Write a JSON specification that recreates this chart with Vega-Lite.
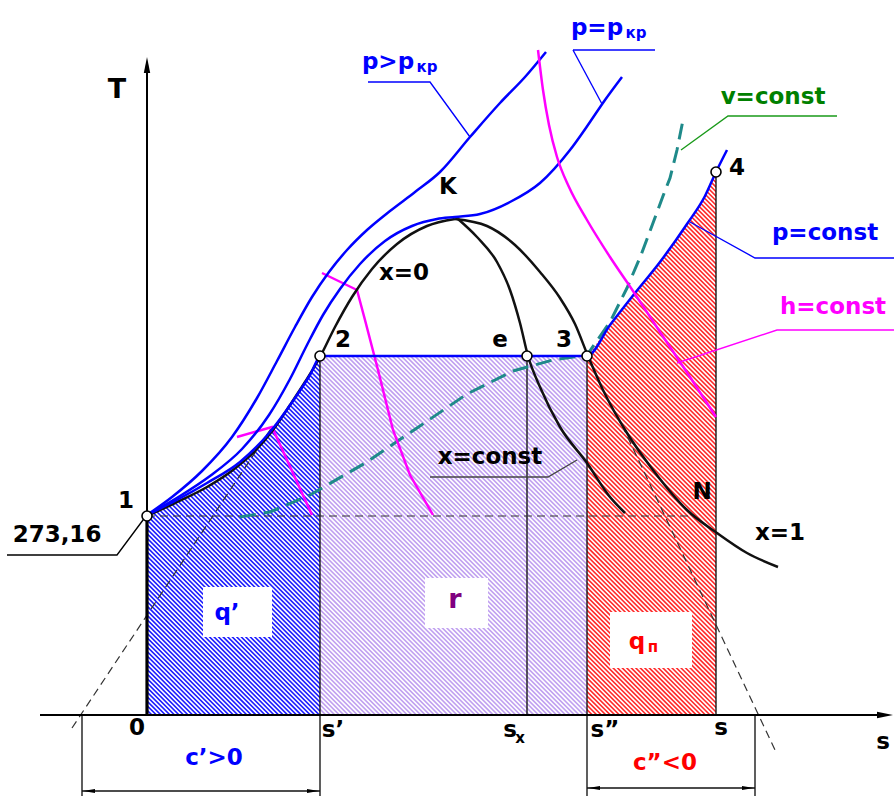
{
  "$schema": "https://vega.github.io/schema/vega-lite/v6.json",
  "padding": 0,
  "background": "white",
  "config": {"view": {"stroke": null}},
  "datasets": {
    "masks": [
      {"s": -147, "T": -81, "s2": 0, "T2": 715},
      {"s": -147, "T": -81, "s2": 747, "T2": 0},
      {"s": 569, "T": -81, "s2": 747, "T2": 715},
      {"s": 56, "T": 78, "s2": 125, "T2": 128},
      {"s": 278, "T": 87, "s2": 341, "T2": 137},
      {"s": 463, "T": 47, "s2": 545, "T2": 103}
    ],
    "hatchTop": [
      {"s": 0, "T": 199}, {"s": 28, "T": 212}, {"s": 60, "T": 228}, {"s": 86, "T": 245},
      {"s": 108, "T": 264}, {"s": 126, "T": 285}, {"s": 143, "T": 310}, {"s": 158, "T": 333},
      {"s": 173, "T": 358}, {"s": 440, "T": 358}, {"s": 463, "T": 390}, {"s": 488, "T": 422},
      {"s": 513, "T": 453}, {"s": 540, "T": 491}, {"s": 558, "T": 519}, {"s": 569, "T": 543}
    ],
    "curves": [
      {"id": "x0", "k": "dome", "s": 0, "T": 199}, {"id": "x0", "k": "dome", "s": 28, "T": 212},
      {"id": "x0", "k": "dome", "s": 60, "T": 228}, {"id": "x0", "k": "dome", "s": 86, "T": 245},
      {"id": "x0", "k": "dome", "s": 108, "T": 264}, {"id": "x0", "k": "dome", "s": 126, "T": 285},
      {"id": "x0", "k": "dome", "s": 143, "T": 310}, {"id": "x0", "k": "dome", "s": 158, "T": 333},
      {"id": "x0", "k": "dome", "s": 173, "T": 358}, {"id": "x0", "k": "dome", "s": 188, "T": 388},
      {"id": "x0", "k": "dome", "s": 205, "T": 418}, {"id": "x0", "k": "dome", "s": 225, "T": 446},
      {"id": "x0", "k": "dome", "s": 250, "T": 471}, {"id": "x0", "k": "dome", "s": 280, "T": 489},
      {"id": "x0", "k": "dome", "s": 308, "T": 496},
      {"id": "x1", "k": "dome", "s": 308, "T": 496}, {"id": "x1", "k": "dome", "s": 340, "T": 489},
      {"id": "x1", "k": "dome", "s": 368, "T": 470}, {"id": "x1", "k": "dome", "s": 393, "T": 443},
      {"id": "x1", "k": "dome", "s": 413, "T": 417}, {"id": "x1", "k": "dome", "s": 428, "T": 391},
      {"id": "x1", "k": "dome", "s": 441, "T": 359}, {"id": "x1", "k": "dome", "s": 456, "T": 325},
      {"id": "x1", "k": "dome", "s": 480, "T": 282}, {"id": "x1", "k": "dome", "s": 506, "T": 245},
      {"id": "x1", "k": "dome", "s": 540, "T": 205}, {"id": "x1", "k": "dome", "s": 570, "T": 182},
      {"id": "x1", "k": "dome", "s": 600, "T": 162}, {"id": "x1", "k": "dome", "s": 631, "T": 148},
      {"id": "xc", "k": "dome", "s": 311, "T": 496}, {"id": "xc", "k": "dome", "s": 330, "T": 478},
      {"id": "xc", "k": "dome", "s": 350, "T": 453}, {"id": "xc", "k": "dome", "s": 363, "T": 425},
      {"id": "xc", "k": "dome", "s": 373, "T": 392}, {"id": "xc", "k": "dome", "s": 381, "T": 359},
      {"id": "xc", "k": "dome", "s": 393, "T": 328}, {"id": "xc", "k": "dome", "s": 413, "T": 288},
      {"id": "xc", "k": "dome", "s": 440, "T": 252}, {"id": "xc", "k": "dome", "s": 463, "T": 218},
      {"id": "xc", "k": "dome", "s": 478, "T": 202},
      {"id": "pt", "k": "isobar", "s": 0, "T": 200}, {"id": "pt", "k": "isobar", "s": 25, "T": 218},
      {"id": "pt", "k": "isobar", "s": 55, "T": 244}, {"id": "pt", "k": "isobar", "s": 85, "T": 278},
      {"id": "pt", "k": "isobar", "s": 110, "T": 317}, {"id": "pt", "k": "isobar", "s": 130, "T": 354},
      {"id": "pt", "k": "isobar", "s": 148, "T": 388}, {"id": "pt", "k": "isobar", "s": 165, "T": 418},
      {"id": "pt", "k": "isobar", "s": 182, "T": 443}, {"id": "pt", "k": "isobar", "s": 200, "T": 465},
      {"id": "pt", "k": "isobar", "s": 220, "T": 485}, {"id": "pt", "k": "isobar", "s": 243, "T": 504},
      {"id": "pt", "k": "isobar", "s": 268, "T": 523}, {"id": "pt", "k": "isobar", "s": 293, "T": 543},
      {"id": "pt", "k": "isobar", "s": 323, "T": 578}, {"id": "pt", "k": "isobar", "s": 353, "T": 612},
      {"id": "pt", "k": "isobar", "s": 378, "T": 638}, {"id": "pt", "k": "isobar", "s": 399, "T": 663},
      {"id": "pm", "k": "isobar", "s": 0, "T": 200}, {"id": "pm", "k": "isobar", "s": 33, "T": 219},
      {"id": "pm", "k": "isobar", "s": 63, "T": 239}, {"id": "pm", "k": "isobar", "s": 95, "T": 266},
      {"id": "pm", "k": "isobar", "s": 122, "T": 300}, {"id": "pm", "k": "isobar", "s": 143, "T": 336},
      {"id": "pm", "k": "isobar", "s": 160, "T": 370}, {"id": "pm", "k": "isobar", "s": 176, "T": 400},
      {"id": "pm", "k": "isobar", "s": 193, "T": 426}, {"id": "pm", "k": "isobar", "s": 213, "T": 451},
      {"id": "pm", "k": "isobar", "s": 238, "T": 474}, {"id": "pm", "k": "isobar", "s": 265, "T": 489},
      {"id": "pm", "k": "isobar", "s": 290, "T": 496}, {"id": "pm", "k": "isobar", "s": 308, "T": 498},
      {"id": "pm", "k": "isobar", "s": 333, "T": 501}, {"id": "pm", "k": "isobar", "s": 363, "T": 513},
      {"id": "pm", "k": "isobar", "s": 393, "T": 532}, {"id": "pm", "k": "isobar", "s": 423, "T": 565},
      {"id": "pm", "k": "isobar", "s": 443, "T": 593}, {"id": "pm", "k": "isobar", "s": 458, "T": 615},
      {"id": "pm", "k": "isobar", "s": 475, "T": 638},
      {"id": "pc", "k": "isobar", "s": 0, "T": 200}, {"id": "pc", "k": "isobar", "s": 28, "T": 214},
      {"id": "pc", "k": "isobar", "s": 60, "T": 232}, {"id": "pc", "k": "isobar", "s": 93, "T": 253},
      {"id": "pc", "k": "isobar", "s": 123, "T": 283}, {"id": "pc", "k": "isobar", "s": 148, "T": 317},
      {"id": "pc", "k": "isobar", "s": 163, "T": 340}, {"id": "pc", "k": "isobar", "s": 174, "T": 359},
      {"id": "pc", "k": "isobar", "s": 440, "T": 359}, {"id": "pc", "k": "isobar", "s": 463, "T": 390},
      {"id": "pc", "k": "isobar", "s": 488, "T": 422}, {"id": "pc", "k": "isobar", "s": 513, "T": 453},
      {"id": "pc", "k": "isobar", "s": 540, "T": 491}, {"id": "pc", "k": "isobar", "s": 558, "T": 519},
      {"id": "pc", "k": "isobar", "s": 569, "T": 543}, {"id": "pc", "k": "isobar", "s": 580, "T": 565},
      {"id": "h1", "k": "enthalpy", "s": 90, "T": 278}, {"id": "h1", "k": "enthalpy", "s": 125, "T": 288},
      {"id": "h1", "k": "enthalpy", "s": 165, "T": 200},
      {"id": "h2", "k": "enthalpy", "s": 175, "T": 442}, {"id": "h2", "k": "enthalpy", "s": 210, "T": 425},
      {"id": "h2", "k": "enthalpy", "s": 218, "T": 395}, {"id": "h2", "k": "enthalpy", "s": 231, "T": 345},
      {"id": "h2", "k": "enthalpy", "s": 246, "T": 285}, {"id": "h2", "k": "enthalpy", "s": 263, "T": 240},
      {"id": "h2", "k": "enthalpy", "s": 286, "T": 200},
      {"id": "h3", "k": "enthalpy-s", "s": 391, "T": 665}, {"id": "h3", "k": "enthalpy-s", "s": 396, "T": 625},
      {"id": "h3", "k": "enthalpy-s", "s": 402, "T": 590}, {"id": "h3", "k": "enthalpy-s", "s": 410, "T": 558},
      {"id": "h3", "k": "enthalpy-s", "s": 422, "T": 528}, {"id": "h3", "k": "enthalpy-s", "s": 440, "T": 495},
      {"id": "h3", "k": "enthalpy-s", "s": 463, "T": 458}, {"id": "h3", "k": "enthalpy-s", "s": 486, "T": 424},
      {"id": "h3", "k": "enthalpy-s", "s": 513, "T": 383}, {"id": "h3", "k": "enthalpy-s", "s": 543, "T": 338},
      {"id": "h3", "k": "enthalpy-s", "s": 569, "T": 298},
      {"id": "v", "k": "isochore", "s": 93, "T": 198}, {"id": "v", "k": "isochore", "s": 123, "T": 203},
      {"id": "v", "k": "isochore", "s": 163, "T": 220}, {"id": "v", "k": "isochore", "s": 220, "T": 253},
      {"id": "v", "k": "isochore", "s": 270, "T": 287}, {"id": "v", "k": "isochore", "s": 320, "T": 321},
      {"id": "v", "k": "isochore", "s": 366, "T": 344}, {"id": "v", "k": "isochore", "s": 406, "T": 355},
      {"id": "v", "k": "isochore", "s": 440, "T": 360}, {"id": "v", "k": "isochore", "s": 463, "T": 393},
      {"id": "v", "k": "isochore", "s": 480, "T": 427}, {"id": "v", "k": "isochore", "s": 494, "T": 460},
      {"id": "v", "k": "isochore", "s": 506, "T": 492}, {"id": "v", "k": "isochore", "s": 516, "T": 519},
      {"id": "v", "k": "isochore", "s": 523, "T": 537}, {"id": "v", "k": "isochore", "s": 530, "T": 565},
      {"id": "v", "k": "isochore", "s": 536, "T": 595},
      {"id": "g1", "k": "aux", "s": -75, "T": -13}, {"id": "g1", "k": "aux", "s": 125, "T": 288},
      {"id": "g2", "k": "aux", "s": 475, "T": 290}, {"id": "g2", "k": "aux", "s": 628, "T": -35},
      {"id": "g3", "k": "aux", "s": 0, "T": 199}, {"id": "g3", "k": "aux", "s": 546, "T": 199},
      {"id": "e1", "k": "edge", "s": 173, "T": 359}, {"id": "e1", "k": "edge", "s": 173, "T": -81},
      {"id": "e2", "k": "edge", "s": 380, "T": 359}, {"id": "e2", "k": "edge", "s": 380, "T": 0},
      {"id": "e3", "k": "edge", "s": 440, "T": 359}, {"id": "e3", "k": "edge", "s": 440, "T": -81},
      {"id": "e4", "k": "edge", "s": 569, "T": 543}, {"id": "e4", "k": "edge", "s": 569, "T": 0},
      {"id": "e5", "k": "edge", "s": -65, "T": 0}, {"id": "e5", "k": "edge", "s": -65, "T": -81},
      {"id": "e6", "k": "edge", "s": 608, "T": 0}, {"id": "e6", "k": "edge", "s": 608, "T": -81},
      {"id": "e7", "k": "edge", "s": -65, "T": -76}, {"id": "e7", "k": "edge", "s": 173, "T": -76},
      {"id": "e8", "k": "edge", "s": 440, "T": -73}, {"id": "e8", "k": "edge", "s": 608, "T": -73},
      {"id": "Ta", "k": "axis", "s": 0, "T": 0}, {"id": "Ta", "k": "axis", "s": 0, "T": 650},
      {"id": "sa", "k": "axis", "s": -107, "T": 0}, {"id": "sa", "k": "axis", "s": 738, "T": 0},
      {"id": "w", "k": "wall", "s": 0, "T": 0}, {"id": "w", "k": "wall", "s": 0, "T": 199},
      {"id": "L273", "k": "lead-k", "s": -140, "T": 160}, {"id": "L273", "k": "lead-k", "s": -30, "T": 160},
      {"id": "L273", "k": "lead-k", "s": -1, "T": 199},
      {"id": "Lxc", "k": "lead-g", "s": 283, "T": 238}, {"id": "Lxc", "k": "lead-g", "s": 401, "T": 238},
      {"id": "Lxc", "k": "lead-g", "s": 430, "T": 255},
      {"id": "Lppk", "k": "lead-b", "s": 221, "T": 633}, {"id": "Lppk", "k": "lead-b", "s": 283, "T": 633},
      {"id": "Lppk", "k": "lead-b", "s": 323, "T": 578},
      {"id": "Lpkp1", "k": "lead-b", "s": 426, "T": 665}, {"id": "Lpkp1", "k": "lead-b", "s": 508, "T": 665},
      {"id": "Lpkp2", "k": "lead-b", "s": 426, "T": 665}, {"id": "Lpkp2", "k": "lead-b", "s": 455, "T": 611},
      {"id": "Lv", "k": "lead-v", "s": 534, "T": 565}, {"id": "Lv", "k": "lead-v", "s": 581, "T": 599},
      {"id": "Lv", "k": "lead-v", "s": 690, "T": 599},
      {"id": "Lpc", "k": "lead-b", "s": 543, "T": 493}, {"id": "Lpc", "k": "lead-b", "s": 608, "T": 457},
      {"id": "Lpc", "k": "lead-b", "s": 747, "T": 457},
      {"id": "Lh", "k": "lead-m", "s": 530, "T": 352}, {"id": "Lh", "k": "lead-m", "s": 630, "T": 385},
      {"id": "Lh", "k": "lead-m", "s": 747, "T": 385}
    ],
    "arrows": [
      {"k": "up", "s": 0, "T": 650}, {"k": "right", "s": 738, "T": 0},
      {"k": "left", "s": -58, "T": -76}, {"k": "left", "s": 447, "T": -73},
      {"k": "rightS", "s": 166, "T": -76}, {"k": "rightS", "s": 601, "T": -73}
    ],
    "states": [
      {"p": "1", "s": 0, "T": 199}, {"p": "2", "s": 173, "T": 359}, {"p": "e", "s": 380, "T": 359},
      {"p": "3", "s": 440, "T": 359}, {"p": "4", "s": 569, "T": 543}
    ],
    "labels": [
      {"t": "K", "g": "state", "s": 301, "T": 528}, {"t": "x=0", "g": "state", "s": 257, "T": 442},
      {"t": "1", "g": "state", "s": -21, "T": 214}, {"t": "2", "g": "state", "s": 196, "T": 375},
      {"t": "e", "g": "state", "s": 353, "T": 375}, {"t": "3", "g": "state", "s": 417, "T": 375},
      {"t": "4", "g": "state", "s": 590, "T": 547}, {"t": "N", "g": "state", "s": 555, "T": 223},
      {"t": "x=1", "g": "state", "s": 633, "T": 182}, {"t": "x=const", "g": "state", "s": 343, "T": 258},
      {"t": "273,16", "g": "state", "s": -90, "T": 180}, {"t": "0", "g": "state", "s": -10, "T": -13},
      {"t": "s’", "g": "state", "s": 186, "T": -15}, {"t": "s", "g": "state", "s": 363, "T": -15},
      {"t": "s”", "g": "state", "s": 458, "T": -15}, {"t": "s", "g": "state", "s": 574, "T": -13},
      {"t": "s", "g": "state", "s": 736, "T": -27},
      {"t": "p>p", "g": "isobar", "s": 241, "T": 653}, {"t": "p=p", "g": "isobar", "s": 450, "T": 687},
      {"t": "p=const", "g": "isobar", "s": 678, "T": 482}, {"t": "c’>0", "g": "isobar", "s": 67, "T": -43},
      {"t": "q’", "g": "isobar", "s": 80, "T": 102},
      {"t": "c”<0", "g": "superheat", "s": 518, "T": -48}, {"t": "q", "g": "superheat", "s": 490, "T": 73},
      {"t": "h=const", "g": "enthalpy", "s": 686, "T": 408},
      {"t": "v=const", "g": "volume", "s": 626, "T": 618}
    ],
    "subs": [
      {"t": "кр", "g": "isobar", "s": 280, "T": 648}, {"t": "кр", "g": "isobar", "s": 489, "T": 682},
      {"t": "x", "g": "state", "s": 373, "T": -23}, {"t": "п", "g": "superheat", "s": 506, "T": 68}
    ],
    "large": [
      {"t": "T", "g": "state", "s": -30, "T": 625}, {"t": "r", "g": "latent", "s": 308, "T": 115}
    ]
  },
  "spacing": 0,
  "bounds": "flush",
  "resolve": {"scale": {"x": "independent", "y": "independent"}},
  "hconcat": [
    {
      "width": 320, "height": 796,
      "data": {"values": [{"s": -70, "T": 24}, {"s": 242, "T": 336}]},
      "mark": {"type": "line", "clip": true, "color": "#1c1cff", "strokeWidth": 420, "strokeDash": [1.6, 1.6], "strokeCap": "butt"},
      "encoding": {
        "x": {"field": "s", "type": "quantitative", "scale": {"domain": [-147, 173], "nice": false, "zero": false}, "axis": null},
        "y": {"field": "T", "type": "quantitative", "scale": {"domain": [-81, 715], "nice": false, "zero": false}, "axis": null}
      }
    },
    {
      "width": 267, "height": 796,
      "data": {"values": [{"s": 136, "T": 10}, {"s": 476, "T": 350}]},
      "mark": {"type": "line", "clip": true, "color": "#c0a0f0", "strokeWidth": 470, "strokeDash": [1.6, 1.6], "strokeCap": "butt"},
      "encoding": {
        "x": {"field": "s", "type": "quantitative", "scale": {"domain": [173, 440], "nice": false, "zero": false}, "axis": null},
        "y": {"field": "T", "type": "quantitative", "scale": {"domain": [-81, 715], "nice": false, "zero": false}, "axis": null}
      }
    },
    {
      "width": 307, "height": 796,
      "encoding": {
        "x": {"field": "s", "type": "quantitative", "scale": {"domain": [440, 747], "nice": false, "zero": false}, "axis": null},
        "y": {"field": "T", "type": "quantitative", "scale": {"domain": [-81, 715], "nice": false, "zero": false}, "axis": null}
      },
      "resolve": {"scale": {"color": "independent", "shape": "independent"}},
      "layer": [
        {
          "data": {"values": [{"s": 320, "T": 88}, {"s": 688, "T": 456}]},
          "mark": {"type": "line", "clip": true, "color": "#ff2a2a", "strokeWidth": 500, "strokeDash": [1.6, 1.6], "strokeCap": "butt"}
        },
        {
          "data": {"name": "masks"},
          "mark": {"type": "rect", "color": "white", "clip": false},
          "encoding": {"x2": {"field": "s2"}, "y2": {"field": "T2"}}
        },
        {
          "data": {"name": "hatchTop"},
          "mark": {"type": "area", "color": "white", "clip": false},
          "encoding": {"y2": {"datum": 715}}
        },
        {
          "data": {"name": "curves"},
          "transform": [{"filter": {"field": "k", "oneOf": ["edge", "lead-k", "lead-g", "lead-b", "lead-v", "lead-m"]}}],
          "mark": {"type": "line", "strokeWidth": 1.35, "clip": false},
          "encoding": {
            "detail": {"field": "id"},
            "color": {"field": "k", "type": "nominal", "legend": null,
              "scale": {"domain": ["edge", "lead-k", "lead-g", "lead-b", "lead-v", "lead-m"],
                        "range": ["#111111", "#000000", "#444444", "#0000ff", "#1a9a1a", "#ff00ff"]}}
          }
        },
        {
          "data": {"name": "curves"},
          "transform": [{"filter": {"field": "k", "equal": "aux"}}],
          "mark": {"type": "line", "strokeWidth": 1.2, "color": "#333", "strokeDash": [8, 5], "clip": false},
          "encoding": {"detail": {"field": "id"}}
        },
        {
          "data": {"name": "curves"},
          "transform": [{"filter": {"field": "k", "equal": "isochore"}}],
          "mark": {"type": "line", "strokeWidth": 3, "color": "#1f8a8a", "strokeDash": [16, 8], "clip": false},
          "encoding": {"detail": {"field": "id"}}
        },
        {
          "data": {"name": "curves"},
          "transform": [{"filter": {"field": "k", "equal": "enthalpy"}}],
          "mark": {"type": "line", "strokeWidth": 2.5, "color": "#ff00ff", "clip": false},
          "encoding": {"detail": {"field": "id"}}
        },
        {
          "data": {"name": "curves"},
          "transform": [{"filter": {"field": "k", "oneOf": ["dome", "isobar", "enthalpy-s"]}}],
          "mark": {"type": "line", "strokeWidth": 2.5, "interpolate": "monotone", "clip": false},
          "encoding": {
            "detail": {"field": "id"},
            "color": {"field": "k", "type": "nominal", "legend": null,
              "scale": {"domain": ["dome", "isobar", "enthalpy-s"], "range": ["#111111", "#0000ff", "#ff00ff"]}}
          }
        },
        {
          "data": {"name": "curves"},
          "transform": [{"filter": {"field": "k", "equal": "axis"}}],
          "mark": {"type": "line", "strokeWidth": 2, "color": "#000", "clip": false},
          "encoding": {"detail": {"field": "id"}}
        },
        {
          "data": {"name": "curves"},
          "transform": [{"filter": {"field": "k", "equal": "wall"}}],
          "mark": {"type": "line", "strokeWidth": 3.2, "color": "#000", "clip": false},
          "encoding": {"detail": {"field": "id"}}
        },
        {
          "data": {"name": "arrows"},
          "mark": {"type": "point", "size": 256, "filled": true, "color": "#000", "opacity": 1, "clip": false},
          "encoding": {
            "shape": {"field": "k", "type": "nominal", "legend": null,
              "scale": {"domain": ["up", "right", "left", "rightS"],
                        "range": ["M0,-1L0.4,1L-0.4,1Z", "M1,0L-1,-0.4L-1,0.4Z", "M-0.75,0L0.75,-0.26L0.75,0.26Z", "M0.75,0L-0.75,-0.26L-0.75,0.26Z"]}}
          }
        },
        {
          "data": {"name": "states"},
          "mark": {"type": "point", "shape": "circle", "size": 100, "filled": true, "fill": "#fff", "stroke": "#000", "strokeWidth": 1.6, "opacity": 1, "clip": false}
        },
        {
          "data": {"name": "labels"},
          "mark": {"type": "text", "font": "DejaVu Sans", "fontWeight": "bold", "fontSize": 23, "align": "center", "baseline": "middle", "clip": false},
          "encoding": {
            "text": {"field": "t"},
            "color": {"field": "g", "type": "nominal", "legend": null,
              "scale": {"domain": ["state", "isobar", "superheat", "enthalpy", "volume", "latent"],
                        "range": ["#000000", "#0000ff", "#ff0000", "#ff00ff", "#008000", "#800080"]}}
          }
        },
        {
          "data": {"name": "subs"},
          "mark": {"type": "text", "font": "DejaVu Sans", "fontWeight": "bold", "fontSize": 15, "align": "center", "baseline": "middle", "clip": false},
          "encoding": {
            "text": {"field": "t"},
            "color": {"field": "g", "type": "nominal", "legend": null,
              "scale": {"domain": ["state", "isobar", "superheat", "enthalpy", "volume", "latent"],
                        "range": ["#000000", "#0000ff", "#ff0000", "#ff00ff", "#008000", "#800080"]}}
          }
        },
        {
          "data": {"name": "large"},
          "mark": {"type": "text", "font": "DejaVu Sans", "fontWeight": "bold", "fontSize": 27, "align": "center", "baseline": "middle", "clip": false},
          "encoding": {
            "text": {"field": "t"},
            "color": {"field": "g", "type": "nominal", "legend": null,
              "scale": {"domain": ["state", "isobar", "superheat", "enthalpy", "volume", "latent"],
                        "range": ["#000000", "#0000ff", "#ff0000", "#ff00ff", "#008000", "#800080"]}}
          }
        }
      ]
    }
  ]
}
